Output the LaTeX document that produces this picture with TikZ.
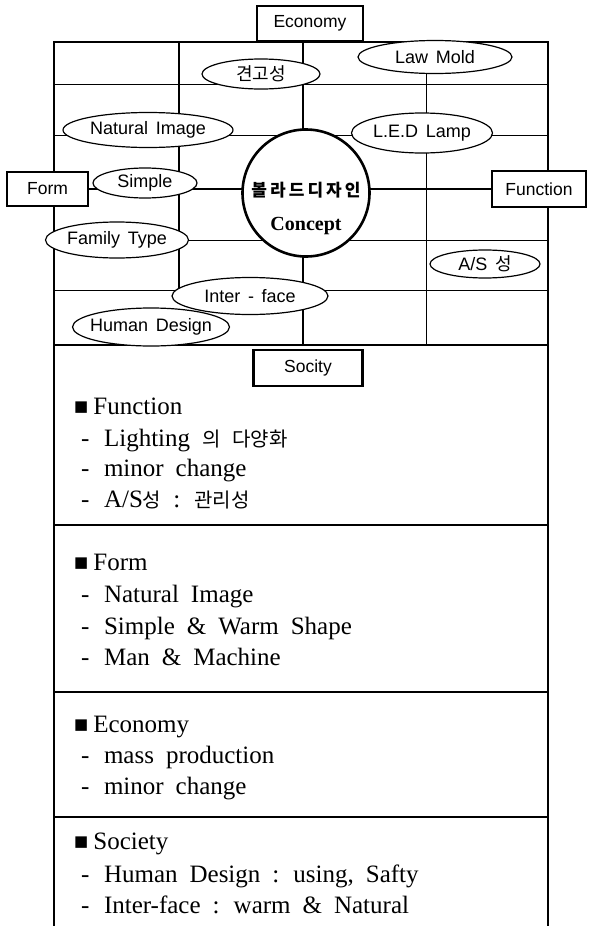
\documentclass[tikz,border=0pt]{standalone}
\usepackage{fontspec}
\setmainfont{Liberation Serif}
\newfontfamily\sansf{Liberation Sans}
\newfontfamily\kr{Noto Sans CJK KR}
\newfontfamily\dejavu{DejaVu Sans}
\usetikzlibrary{shapes.geometric}
\pgfdeclarelayer{bg}
\pgfsetlayers{bg,main}
\newcommand{\ovalfont}{\sansf\fontsize{18}{21}\selectfont\spaceskip 0.42em plus 0.1em\relax}
\newcommand{\bodyfont}{\fontsize{25}{30}\selectfont\spaceskip 0.48em plus 0.1em\relax}
\tikzset{
  thickln/.style={line width=2.6pt},
  midln/.style={line width=1.6pt},
  thinln/.style={line width=1pt},
  oval/.style={draw, ellipse, fill=white, line width=1.2pt, inner sep=0pt,
    font={\ovalfont}},
  lbox/.style={draw, rectangle, fill=white, line width=2.4pt, inner sep=0pt,
    font={\sansf\fontsize{17.5}{20}\selectfont}},
  body/.style={anchor=base west, inner sep=0pt, font={\bodyfont}},
}
\newcommand{\hb}{{\dejavu\fontsize{15}{16}\selectfont\raisebox{3pt}{■}}\hspace{5pt}}
\newcommand{\dsh}{-\hspace{14.5pt}}
\newcommand{\K}[1]{{\kr\fontsize{20}{24}\selectfont #1}}
\newcommand{\zb}[1]{\hbox to 0pt{\hss #1\hss}}
\begin{document}
\begin{tikzpicture}[x=1pt,y=-1pt]
\useasboundingbox (0,0) rectangle (590,926);
% frame and grid coordinates
\coordinate (fTL) at (54,42);
\coordinate (fTR) at (548,42);
\coordinate (fBL) at (54,926);
\coordinate (fBR) at (548,926);
\foreach \n/\y in {a/84,b/135,d/240,e/290,f/345,sa/525,sb/692,sc/817}{
  \coordinate (\n L) at (54,\y);
  \coordinate (\n R) at (548,\y);
}
\coordinate (c1T) at (179,42);  \coordinate (c1B) at (179,290);
\coordinate (c2T) at (303,42);  \coordinate (c2B) at (303,345);
\coordinate (c3T) at (426,42);  \coordinate (c3B) at (426,345);

% boxes
\node[lbox, minimum width=106pt, minimum height=35pt] (econ) at (310,23.5) {Economy};
\node[lbox, minimum width=81pt, minimum height=34pt] (form) at (47.5,189) {Form};
\node[lbox, minimum width=94pt, minimum height=36pt] (func) at (539,189) {Function};
\node[lbox, minimum width=109pt, minimum height=36pt] (soc) at (308,368) {Socity};

% central circle
\node[draw, circle, fill=white, line width=2.6pt, minimum size=127pt, inner sep=0pt] (circ) at (306,193) {};
\node[inner sep=0pt, font={\kr\bfseries\fontsize{17}{20}\selectfont\addfontfeature{LetterSpace=18}}] (ktxt) at (306,190) {볼라드디자인};
\node[inner sep=0pt, font={\bfseries\fontsize{20}{24}\selectfont}] (ctxt) at (306,226) {Concept};

% ellipses
\node[oval, minimum width=118pt, minimum height=30pt] (gyeon) at (261,74) {\zb{\kr 견고성}};
\node[oval, minimum width=154pt, minimum height=33pt] (law) at (435,57) {\zb{Law Mold}};
\node[oval, minimum width=170pt, minimum height=35pt] (nat) at (148,130) {\zb{Natural Image}};
\node[oval, minimum width=141pt, minimum height=40pt] (led) at (422,133) {\zb{L.E.D Lamp}};
\node[oval, minimum width=104pt, minimum height=30pt] (simp) at (145,183) {\zb{Simple}};
\node[oval, minimum width=143pt, minimum height=36pt] (fam) at (117,240) {\zb{Family Type}};
\node[oval, minimum width=110pt, minimum height=28pt] (as) at (485,264) {\zb{A/S {\kr 성}}};
\node[oval, minimum width=156pt, minimum height=37pt] (inter) at (250,296) {\zb{Inter - face}};
\node[oval, minimum width=157pt, minimum height=38pt] (hum) at (151,327) {\zb{Human Design}};

% connectors and grid
\begin{pgfonlayer}{bg}
\draw[thickln] (fBL) -- (fTL) -- (fTR) -- (fBR);
\draw[midln] (c1T) -- (c1B);
\draw[thickln] (c2T) -- (c2B);
\draw[thinln] (c3T) -- (c3B);
\draw[thinln] (aL) -- (aR);
\draw[thinln] (bL) -- (bR);
\draw[thickln] (form) -- (func);
\draw[thinln] (dL) -- (dR);
\draw[thinln] (eL) -- (eR);
\draw[midln] (fL) -- (fR);
\draw[midln] (saL) -- (saR);
\draw[midln] (sbL) -- (sbR);
\draw[midln] (scL) -- (scR);
\end{pgfonlayer}

% text sections
\node[body] (t1) at (74,414) {\hb Function};
\node[body] (t2) at (81,446) {\dsh Lighting \K{의 다양화}};
\node[body] (t3) at (81,476) {\dsh minor change};
\node[body] (t4) at (81,507) {\dsh A/S\K{성} : \K{관리성}};
\node[body] (t5) at (74,570) {\hb Form};
\node[body] (t6) at (81,602) {\dsh Natural Image};
\node[body] (t7) at (81,634) {\dsh Simple \& Warm Shape};
\node[body] (t8) at (81,665) {\dsh Man \& Machine};
\node[body] (t9) at (74,732) {\hb Economy};
\node[body] (t10) at (81,763) {\dsh mass production};
\node[body] (t11) at (81,794) {\dsh minor change};
\node[body] (t12) at (74,849) {\hb Society};
\node[body] (t13) at (81,882) {\dsh Human Design : using, Safty};
\node[body] (t14) at (81,913) {\dsh Inter-face : warm \& Natural};
\end{tikzpicture}
\end{document}
